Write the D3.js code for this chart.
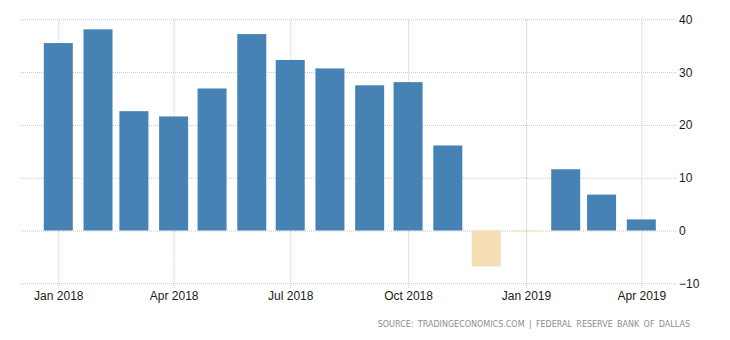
<!DOCTYPE html>
<html>
<head>
<meta charset="utf-8">
<script src="https://cdn.jsdelivr.net/npm/d3@7"></script>
<style>
  html, body { margin: 0; padding: 0; background: #fff; }
  svg { display: block; }
</style>
</head>
<body>
<svg id="chart" width="730" height="340"></svg>
<script>
// ---- data ----
const months = ["2018-01","2018-02","2018-03","2018-04","2018-05","2018-06","2018-07","2018-08","2018-09","2018-10","2018-11","2018-12","2019-01","2019-02","2019-03","2019-04"];
const values = [35.5, 38.1, 22.6, 21.6, 26.9, 37.2, 32.3, 30.7, 27.5, 28.1, 16.1, -6.8, -0.2, 11.6, 6.8, 2.1];
const yTickValues = [-10, 0, 10, 20, 30, 40];
const xTickLabels = ["2018-01","2018-04","2018-07","2018-10","2019-01","2019-04"];
const sourceText = "SOURCE: TRADINGECONOMICS.COM | FEDERAL RESERVE BANK OF DALLAS";

(function () {
const parse = d3.timeParse("%Y-%m");
const data = months.map((m, i) => ({ date: parse(m), value: values[i] }));

const svg = d3.select("#chart");
const font = "'Liberation Sans', Arial, sans-serif";

const plotLeft = 21, plotRight = 676, plotTop = 19.3, plotBottom = 283.3, axisY = 288;

const x = d3.scaleTime()
  .domain([parse("2018-01"), parse("2019-04")])
  .range([58.3, 641.3]);
const y = d3.scaleLinear().domain([-10, 40]).range([plotBottom, plotTop]);

// y axis with gridlines
const yAxis = d3.axisRight(y).tickValues(yTickValues).tickSize(-(plotRight - plotLeft)).tickPadding(3).tickFormat(d3.format("d"));
const gy = svg.append("g").attr("transform", `translate(${plotRight},0)`).call(yAxis);
gy.select(".domain").remove();
gy.selectAll(".tick line").attr("stroke", "#c8c8c8").attr("stroke-dasharray", "1,1");
gy.selectAll(".tick text").attr("font-family", font).attr("font-size", 12).attr("fill", "#1a1a1a").attr("dy", "0.34em");

// x axis with gridlines
const xAxis = d3.axisBottom(x).tickValues(xTickLabels.map(parse)).tickSize(-(axisY - plotTop)).tickPadding(3.5).tickFormat(d3.timeFormat("%b %Y"));
const gx = svg.append("g").attr("transform", `translate(0,${axisY})`).call(xAxis);
gx.select(".domain").remove();
gx.selectAll(".tick line").attr("stroke", "#c8c8c8").attr("stroke-dasharray", "1,1");
gx.selectAll(".tick text").attr("font-family", font).attr("font-size", 12).attr("fill", "#1a1a1a");

// bars
const monthW = x(parse("2018-02")) - x(parse("2018-01"));
const barW = monthW * 0.73;
svg.append("g").selectAll("rect").data(data).join("rect")
  .attr("x", d => x(d.date) - barW / 2)
  .attr("width", barW)
  .attr("y", d => y(Math.max(0, d.value)))
  .attr("height", d => Math.max(1, Math.abs(y(d.value) - y(0))))
  .attr("fill", d => d.value >= 0 ? "#4682B4" : "#F5DEB3");

// source
svg.append("text")
  .attr("x", 690).attr("y", 327)
  .attr("text-anchor", "end")
  .attr("font-family", "'DejaVu Sans', sans-serif")
  .attr("font-size", 8)
  .attr("letter-spacing", 0)
  .attr("word-spacing", 1.8)
  .attr("fill", "#8c8c96")
  .text(sourceText);
})();
</script>
</body>
</html>
